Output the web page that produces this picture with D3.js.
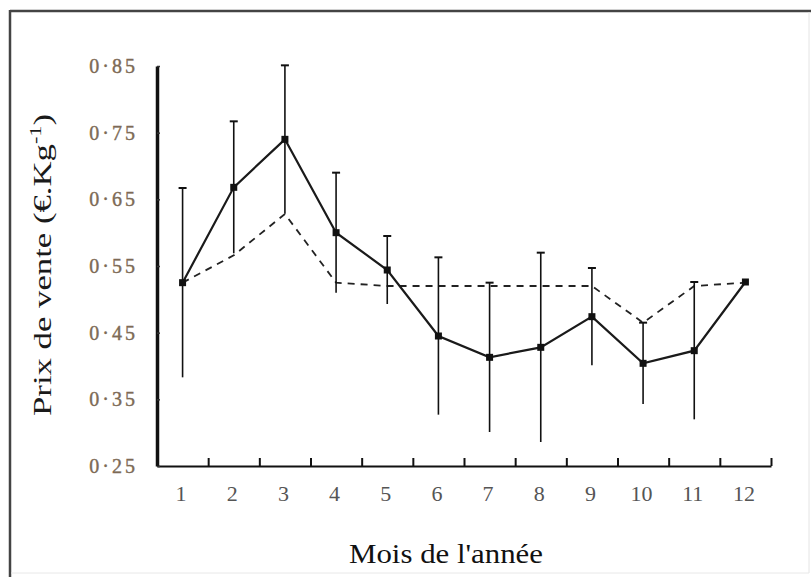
<!DOCTYPE html>
<html>
<head>
<meta charset="utf-8">
<script src="https://cdn.jsdelivr.net/npm/d3@7"></script>
<style>
    body { margin: 0; background: #fff; }
    svg { display: block; }
</style>
</head>
<body>
<script>
// mois de l'annee
var months = [1, 2, 3, 4, 5, 6, 7, 8, 9, 10, 11, 12];
// prix moyen observe (trait plein) et ecart-type
var prixMoyen = [0.525, 0.668, 0.740, 0.600, 0.544, 0.445, 0.413, 0.428, 0.474, 0.404, 0.423, 0.526];
var ecartType = [0.142, 0.099, 0.111, 0.090, 0.051, 0.118, 0.112, 0.142, 0.073, 0.061, 0.103, 0];
// prix de reference (tirets)
var prixRef = [0.525, 0.566, 0.628, 0.525, 0.520, 0.520, 0.520, 0.520, 0.520, 0.465, 0.520, 0.525];
var yTicks = [0.25, 0.35, 0.45, 0.55, 0.65, 0.75, 0.85];

var W = 811, H = 577;
var svg = d3.select("body").append("svg")
    .attr("width", W)
    .attr("height", H);

// cadre
svg.append("line").attr("x1", 10).attr("y1", 11).attr("x2", 811).attr("y2", 11)
    .attr("stroke", "#444").attr("stroke-width", 2.5);
svg.append("line").attr("x1", 10).attr("y1", 10).attr("x2", 10).attr("y2", 577)
    .attr("stroke", "#444").attr("stroke-width", 2.5);
svg.append("line").attr("x1", 809).attr("y1", 12).attr("x2", 809).attr("y2", 573)
    .attr("stroke", "#e4e4e4").attr("stroke-width", 1);
svg.append("line").attr("x1", 11).attr("y1", 573).attr("x2", 809).attr("y2", 573)
    .attr("stroke", "#e8e8e8").attr("stroke-width", 1);

var x = d3.scaleLinear()
    .domain([0.5, 12.5])
    .range([157, 771]);

var y = d3.scaleLinear()
    .domain([0.25, 0.85])
    .range([466, 66]);

var serif = "'Liberation Serif', 'Times New Roman', serif";

// axe x : graduations entre les mois
var xAxisTicks = d3.axisBottom(x)
    .tickValues(months.map(function (m) { return m + 0.5; }))
    .tickSizeInner(-8)
    .tickSizeOuter(0)
    .tickFormat("");

var gx = svg.append("g")
    .attr("transform", "translate(0," + y(0.25) + ")")
    .call(xAxisTicks);
gx.select(".domain").attr("stroke", "#111").attr("stroke-width", 2);
gx.selectAll(".tick line").attr("stroke", "#111").attr("stroke-width", 2);

// etiquettes des mois
var xAxisLabels = d3.axisBottom(x)
    .tickValues(months)
    .tickSize(0)
    .tickPadding(19)
    .tickFormat(d3.format("d"));

var gxl = svg.append("g")
    .attr("transform", "translate(-2," + y(0.25) + ")")
    .call(xAxisLabels);
gxl.select(".domain").remove();
gxl.selectAll(".tick text")
    .attr("font-family", serif)
    .attr("font-size", 22)
    .attr("fill", "#555");

// axe y
var yAxis = d3.axisRight(y)
    .tickValues(yTicks)
    .tickSizeInner(3)
    .tickSizeOuter(0)
    .tickFormat(function (d) { return d3.format(".2f")(d).replace(".", "·"); });

var gy = svg.append("g")
    .attr("transform", "translate(" + x(0.5) + ",0)")
    .call(yAxis);
gy.select(".domain").attr("stroke", "#111").attr("stroke-width", 3.5);
gy.selectAll(".tick line").attr("stroke", "#333").attr("stroke-width", 1.5);
gy.selectAll(".tick text")
    .attr("x", -19)
    .attr("text-anchor", "end")
    .attr("font-family", serif)
    .attr("font-size", 20)
    .attr("letter-spacing", 3)
    .attr("stroke", "#7d6a55")
    .attr("stroke-width", 0.4)
    .attr("fill", "#7d6a55");

// titres des axes
svg.append("text")
    .attr("x", 446)
    .attr("y", 563)
    .attr("text-anchor", "middle")
    .attr("font-family", serif)
    .attr("font-size", 28)
    .attr("textLength", 194)
    .attr("lengthAdjust", "spacingAndGlyphs")
    .attr("fill", "#111")
    .text("Mois de l'année");

var yTitle = svg.append("text")
    .attr("transform", "translate(51,265) rotate(-90)")
    .attr("text-anchor", "middle")
    .attr("font-family", serif)
    .attr("font-size", 25)
    .attr("textLength", 302)
    .attr("lengthAdjust", "spacingAndGlyphs")
    .attr("fill", "#1a1a1a");
yTitle.append("tspan").text("Prix de vente (€.Kg");
yTitle.append("tspan").attr("font-size", 16).attr("dy", -10).text("-1");
yTitle.append("tspan").attr("dy", 10).text(")");

// ligne de reference (tirets)
var line = d3.line()
    .x(function (d, i) { return x(months[i]); })
    .y(function (d) { return y(d); });

svg.append("path")
    .datum(prixRef)
    .attr("d", line)
    .attr("fill", "none")
    .attr("stroke", "#222")
    .attr("stroke-width", 1.8)
    .attr("stroke-dasharray", "7,6");

// barres d'erreur
var err = svg.append("g").selectAll("g")
    .data(prixMoyen.map(function (v, i) { return { m: months[i], v: v, e: ecartType[i] }; })
        .filter(function (d) { return d.e > 0; }))
    .join("g");

err.append("line")
    .attr("x1", function (d) { return x(d.m); })
    .attr("x2", function (d) { return x(d.m); })
    .attr("y1", function (d) { return y(d.v + d.e); })
    .attr("y2", function (d) { return y(d.v - d.e); })
    .attr("stroke", "#111")
    .attr("stroke-width", 1.6);

err.append("line")
    .attr("x1", function (d) { return x(d.m) - 4; })
    .attr("x2", function (d) { return x(d.m) + 4; })
    .attr("y1", function (d) { return y(d.v + d.e); })
    .attr("y2", function (d) { return y(d.v + d.e); })
    .attr("stroke", "#111")
    .attr("stroke-width", 2);

// prix moyen (trait plein)
svg.append("path")
    .datum(prixMoyen)
    .attr("d", line)
    .attr("fill", "none")
    .attr("stroke", "#1a1a1a")
    .attr("stroke-width", 2.2);

svg.append("g").selectAll("rect")
    .data(prixMoyen)
    .join("rect")
    .attr("x", function (d, i) { return x(months[i]) - 3.5; })
    .attr("y", function (d) { return y(d) - 3.5; })
    .attr("width", 7)
    .attr("height", 7)
    .attr("fill", "#111");
</script>
</body>
</html>
